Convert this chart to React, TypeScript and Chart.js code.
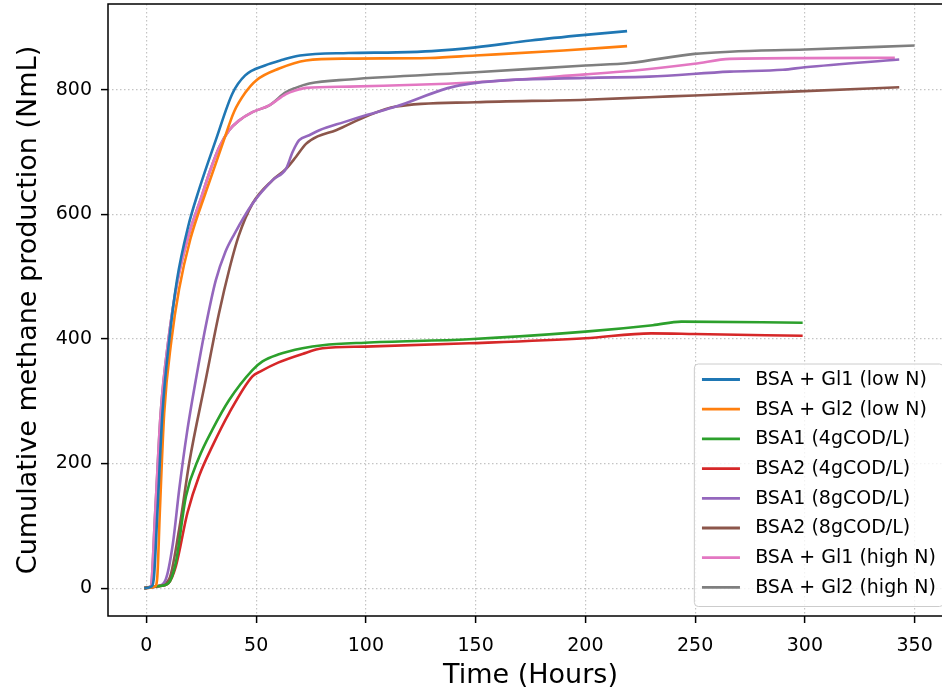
import React, { useEffect, useRef } from 'react';
import { Chart, registerables } from 'chart.js';

Chart.register(...registerables);

// ---- Data (time in hours, cumulative methane in NmL) ----
const gl1LowN: [number, number][] = [
  [-1, 0], [2.5, 3], [3.5, 20], [5, 121], [7.3, 281], [10.4, 398], [13.9, 494], [19, 580], [24, 640],
  [31.6, 719], [39.2, 794], [45, 823], [54, 839], [62, 848], [70, 855], [92, 859], [114, 860], [130, 862],
  [150, 868], [175, 879], [200, 888], [219, 894],
];
const gl2LowN: [number, number][] = [
  [-1, 0], [4, 3], [5, 20], [6.1, 121], [8.1, 281], [11.4, 398], [14.9, 480], [20, 560], [27, 635],
  [34.7, 713], [40, 765], [45, 795], [50, 815], [60.5, 834], [72.7, 847], [92, 850], [129, 851], [150, 855],
  [190, 863], [219, 870],
];
const bsa1Cod4: [number, number][] = [
  [-1, 0], [5, 3], [10, 8], [13.4, 41], [18, 147], [24, 210], [30, 254], [37.7, 302], [48.3, 350],
  [52.9, 364], [60, 375], [71.1, 385], [80.3, 390], [99.6, 394], [147, 399.5], [200, 411.7],
  [230.7, 422], [243.7, 427.8], [299, 426],
];
const bsa2Cod4: [number, number][] = [
  [-1, 0], [5, 3], [10, 8], [13.4, 35], [18.7, 121], [24, 180], [30, 227.5], [37.7, 281], [48.3, 340],
  [52, 348], [60, 362], [71.1, 376], [80.3, 385], [99.6, 387.7], [147, 393], [200, 401], [230, 409],
  [249.7, 408], [299, 405],
];
const bsa1Cod8: [number, number][] = [
  [-1, 0], [5, 3], [8.8, 14], [12, 70], [15, 160], [18.5, 250], [22.5, 334], [27, 420], [31.6, 494],
  [36, 540], [40, 568], [48.3, 617], [57.5, 655], [63.6, 673], [66.6, 700], [69.6, 719], [74.2, 727],
  [78.8, 735], [90, 748], [100, 759], [113.7, 773], [142.6, 807], [200, 819], [229, 821], [265.8, 829],
  [290, 832], [300, 836], [343, 848.6],
];
const bsa2Cod8: [number, number][] = [
  [-1, 0], [5, 3], [10.3, 14], [14.9, 94], [19.5, 201], [27, 334], [33, 440], [38, 515], [42, 565],
  [48.3, 617], [57.5, 655], [63.6, 673], [68.1, 692], [72.7, 713], [78, 725], [86.4, 735], [100, 757],
  [113.7, 773], [150, 780], [200, 784], [229, 788], [249.7, 790.8], [300, 797.8], [343, 804],
];
const gl1HighN: [number, number][] = [
  [-1, 0], [2, 3], [4, 121], [6.5, 281], [10, 398], [14.2, 494], [19.5, 570], [24.8, 625], [29, 670],
  [33.2, 708], [37.7, 735], [42, 750], [48.3, 764], [56, 775], [63.6, 793], [68.1, 799], [72.7, 803],
  [92.4, 805], [150, 812], [200, 824.6], [220, 830], [249.7, 841.6], [265.8, 849.6], [300, 850.7],
  [341, 851.3],
];
const gl2HighN: [number, number][] = [
  [-1, 0], [2, 3], [4, 121], [6.5, 281], [10, 398], [14.2, 494], [19.5, 570], [24.8, 625], [29, 670],
  [33.2, 708], [37.7, 735], [42, 750], [48.3, 764], [56, 775], [63.6, 796], [68, 803], [74.2, 810],
  [92.4, 816.5], [150, 828], [200, 839], [220, 843], [249.7, 857.6], [265.8, 861], [300, 864.6],
  [350, 871],
];

const seriesLabels = [
  'BSA + Gl1 (low N)',
  'BSA + Gl2 (low N)',
  'BSA1 (4gCOD/L)',
  'BSA2 (4gCOD/L)',
  'BSA1 (8gCOD/L)',
  'BSA2 (8gCOD/L)',
  'BSA + Gl1 (high N)',
  'BSA + Gl2 (high N)',
];
const seriesData = [gl1LowN, gl2LowN, bsa1Cod4, bsa2Cod4, bsa1Cod8, bsa2Cod8, gl1HighN, gl2HighN];
const seriesColors = ['#1f77b4', '#ff7f0e', '#2ca02c', '#d62728', '#9467bd', '#8c564b', '#e377c2', '#7f7f7f'];

const xTicks = [0, 50, 100, 150, 200, 250, 300, 350];
const yTicks = [0, 200, 400, 600, 800];

const FONT = "'DejaVu Sans', 'Liberation Sans', sans-serif";

const frameLegendPlugin = {
  id: 'mplFrameLegend',
  afterDatasetsDraw(chart: any) {
    const { ctx, chartArea: a } = chart;
    ctx.save();
    // spines
    ctx.setLineDash([]);
    ctx.strokeStyle = '#000';
    ctx.lineWidth = 1.5;
    ctx.strokeRect(a.left, a.top, a.right - a.left, a.bottom - a.top);

    // legend (matplotlib style, lower right)
    const fs = 19;
    ctx.font = `${fs}px ${FONT}`;
    const ds = chart.data.datasets;
    let maxW = 0;
    ds.forEach((d: any) => { maxW = Math.max(maxW, ctx.measureText(d.label).width); });
    const pad = 0.4 * fs;
    const handle = 2 * fs;
    const gap = 0.8 * fs;
    const rowH = 29.7;
    const w = pad * 2 + handle + gap + maxW;
    const h = 242.5;
    const right = a.right - 9.5;
    const bottom = a.bottom - 9.5;
    const left = right - w;
    const top = bottom - h;
    ctx.beginPath();
    (ctx as any).roundRect(left, top, w, h, 4);
    ctx.fillStyle = 'rgba(255,255,255,0.8)';
    ctx.fill();
    ctx.strokeStyle = '#cccccc';
    ctx.lineWidth = 1;
    ctx.stroke();
    ds.forEach((d: any, i: number) => {
      const y = top + 15.5 + i * rowH;
      ctx.beginPath();
      ctx.strokeStyle = d.borderColor;
      ctx.lineWidth = 2.8;
      ctx.moveTo(left + pad, y);
      ctx.lineTo(left + pad + handle, y);
      ctx.stroke();
      ctx.fillStyle = '#000';
      ctx.textBaseline = 'middle';
      ctx.textAlign = 'left';
      ctx.fillText(d.label, left + pad + handle + gap, y + 0.5);
    });
    ctx.restore();
  },
};

export default function App() {
  const canvasRef = useRef<HTMLCanvasElement | null>(null);

  useEffect(() => {
    if (!canvasRef.current) return;
    const gridCommon = {
      color: 'rgba(176,176,176,0.75)',
      lineWidth: 1.2,
      borderDash: [1.5, 2.5],
      tickLength: 7,
      tickColor: '#000',
      tickWidth: 1.5,
      tickBorderDash: [],
      drawOnChartArea: true,
      drawTicks: true,
    };
    const chart = new Chart(canvasRef.current, {
      type: 'line',
      data: {
        datasets: seriesData.map((pts, i) => ({
          label: seriesLabels[i],
          data: pts.map(([x, y]) => ({ x, y })),
          borderColor: seriesColors[i],
          backgroundColor: seriesColors[i],
          borderWidth: 2.6,
          pointRadius: 0,
          fill: false,
          cubicInterpolationMode: 'monotone' as const,
        })),
      },
      options: {
        animation: false,
        responsive: false,
        maintainAspectRatio: false,
        devicePixelRatio: 1,
        layout: { padding: { left: 0, right: 1, top: 4, bottom: 0 } },
        plugins: { legend: { display: false }, tooltip: { enabled: false } },
        scales: {
          x: {
            type: 'linear',
            min: -17.5,
            max: 367.5,
            afterBuildTicks: (s: any) => { s.ticks = xTicks.map((v) => ({ value: v })); },
            afterFit: (s: any) => { s.height = 76; s.paddingLeft = 0; s.paddingRight = 0; },
            grid: gridCommon,
            border: { display: false, dash: [1.5, 2.5] },
            ticks: { font: { family: FONT, size: 19 }, color: '#000', padding: 12, maxRotation: 0, autoSkip: false },
            title: {
              display: true,
              text: 'Time (Hours)',
              font: { family: FONT, size: 27 },
              color: '#000',
              padding: { top: 0, bottom: 0 },
            },
          },
          y: {
            type: 'linear',
            min: -44.7,
            max: 937.6,
            afterBuildTicks: (s: any) => { s.ticks = yTicks.map((v) => ({ value: v })); },
            afterFit: (s: any) => { s.width = 108; s.paddingTop = 0; s.paddingBottom = 0; },
            grid: gridCommon,
            border: { display: false, dash: [1.5, 2.5] },
            ticks: { font: { family: FONT, size: 19 }, color: '#000', padding: 9, autoSkip: false },
            title: {
              display: true,
              text: 'Cumulative methane production (NmL)',
              font: { family: FONT, size: 27 },
              color: '#000',
              padding: { top: 13, bottom: 0 },
            },
          },
        },
      } as any,
      plugins: [frameLegendPlugin],
    });
    return () => chart.destroy();
  }, []);

  return (
    <div style={{ position: 'fixed', left: 0, top: 0, width: 942, height: 692, overflow: 'hidden', background: '#fff' }}>
      <canvas ref={canvasRef} width={954} height={692} style={{ display: 'block', width: 954, height: 692 }} />
    </div>
  );
}
